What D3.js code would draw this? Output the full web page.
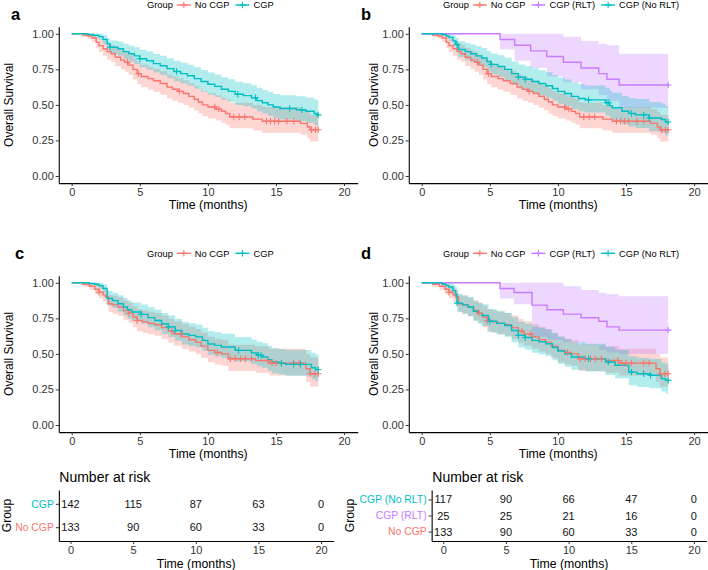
<!DOCTYPE html>
<html><head><meta charset="utf-8">
<script src="https://cdn.jsdelivr.net/npm/d3@7"></script>
<style>body{margin:0;background:#fff} svg{display:block} text{font-family:"Liberation Sans",Arial,Helvetica,sans-serif}</style>
</head><body><svg id="chart" width="708" height="570"></svg>
<script>
// ---------- DATA ----------
const xTicks = [0, 5, 10, 15, 20];
const yTicks = [0, 0.25, 0.5, 0.75, 1];
const riskTimes = [0, 5, 10, 15, 20];

// No CGP (panels a, b)
const noAB_t  = [0,0.8,1.2,1.5,1.8,2.0,2.3,2.6,2.9,3.2,3.6,3.9,4.2,4.5,4.8,5.1,5.6,6.0,6.5,7.0,7.4,7.8,8.2,8.6,9.0,9.3,9.6,10.0,10.6,11.0,11.3,11.6,13.3,14.0,16.8,17.3,17.5];
const noAB_s  = [1,.992,.985,.97,.94,.917,.895,.875,.86,.835,.815,.80,.78,.75,.72,.70,.685,.67,.65,.625,.61,.595,.58,.56,.54,.52,.50,.485,.47,.455,.44,.415,.40,.385,.37,.345,.325];
const noAB_lo = [1,.977,.965,.942,.90,.872,.845,.82,.803,.773,.75,.733,.71,.678,.645,.624,.607,.592,.571,.545,.53,.515,.50,.48,.46,.44,.42,.405,.39,.375,.36,.335,.32,.305,.29,.265,.242];
const noAB_hi = [1,1,1,.998,.98,.965,.948,.932,.92,.90,.883,.87,.853,.826,.80,.782,.768,.755,.736,.713,.70,.686,.672,.654,.635,.616,.597,.582,.568,.553,.54,.515,.50,.486,.472,.45,.43];
const noAB_cens = [4.1,4.9,7.9,10.5,10.8,11.9,12.3,12.7,14.3,14.6,14.9,15.2,15.8,16.3,17.6,17.9,18.1];

// CGP (panel a)
const cgpA_t  = [0,1.2,1.6,2.0,2.3,2.6,2.8,3.4,3.8,4.2,4.6,5.0,5.5,6.0,6.5,7.0,7.5,8.0,8.5,9.0,9.5,10.0,10.5,11.0,11.5,12.0,12.6,13.2,13.6,14.0,14.4,14.8,15.3,16.5,17.2,17.8,18.0];
const cgpA_s  = [1,.995,.99,.98,.96,.93,.905,.895,.875,.86,.845,.825,.81,.79,.775,.755,.735,.72,.705,.685,.665,.645,.63,.61,.595,.575,.565,.55,.53,.515,.50,.485,.475,.465,.455,.44,.43];
const cgpA_lo = [1,.983,.973,.957,.928,.89,.858,.846,.822,.805,.788,.765,.748,.727,.71,.688,.667,.65,.634,.613,.593,.572,.556,.536,.52,.50,.49,.474,.454,.439,.423,.408,.397,.386,.375,.358,.345];
const cgpA_hi = [1,1,1,1,.99,.972,.953,.946,.93,.918,.905,.888,.875,.858,.845,.828,.81,.796,.782,.764,.746,.728,.714,.695,.681,.662,.653,.639,.62,.605,.592,.577,.568,.56,.552,.54,.535];
const cgpA_cens = [2.8,5.0,7.7,12.2,13.5,16.0,16.9,18.1];

// CGP (No RLT) (panel b)
const nrlB_t  = [0,1.5,1.8,2.0,2.3,2.5,2.7,3.2,3.6,4.0,4.4,4.8,5.1,5.6,6.1,6.6,7.1,7.6,8.1,8.6,9.1,9.6,10.0,10.5,11.0,11.5,12.0,13.5,13.8,14.0,14.7,15.2,15.7,16.7,17.6,17.9];
const nrlB_s  = [1,.995,.985,.975,.95,.925,.89,.875,.86,.845,.83,.805,.785,.77,.75,.72,.695,.68,.665,.65,.635,.615,.595,.58,.56,.545,.535,.515,.495,.48,.455,.44,.43,.408,.397,.38];
const nrlB_lo = [1,.982,.963,.947,.912,.878,.836,.818,.80,.782,.765,.737,.714,.697,.675,.642,.615,.598,.582,.566,.55,.529,.508,.492,.472,.456,.446,.425,.405,.39,.364,.348,.338,.315,.303,.285];
const nrlB_hi = [1,1,1,1,.99,.973,.948,.936,.924,.912,.90,.878,.862,.849,.832,.806,.784,.771,.757,.744,.73,.711,.693,.679,.66,.646,.637,.618,.60,.585,.562,.549,.541,.52,.51,.49];
const nrlB_cens = [2.6,5.1,7.1,7.6,12.25,13.6,13.75,15.4,16.3,16.7,18.1];

// CGP (RLT) (panel b)
const rltB_t  = [0,5.75,6.83,8.0,9.18,10.4,11.7,13.0,13.6,14.5];
const rltB_s  = [1,.96,.92,.88,.84,.80,.76,.72,.68,.64];
const rltB_lo = [1,.89,.81,.76,.70,.66,.61,.57,.53,.48];
const rltB_hi = [1,1,1,1,1,.98,.95,.93,.92,.86];
const rltB_cens = [18.1];

// No CGP (panels c, d)
const noCD_t  = [0,0.8,1.3,1.7,2.0,2.3,2.5,2.7,3.0,3.4,3.8,4.2,4.5,4.8,5.2,5.6,6.1,6.6,7.1,7.5,8.1,8.6,9.1,9.5,10.0,10.5,11.0,11.5,13.5,14.5,17.2,17.5];
const noCD_s  = [1,.99,.976,.955,.934,.915,.90,.853,.845,.83,.805,.785,.76,.735,.725,.715,.705,.685,.66,.64,.62,.60,.583,.555,.525,.51,.50,.466,.454,.435,.396,.36];
const noCD_lo = [1,.973,.952,.92,.892,.868,.85,.793,.783,.766,.737,.715,.688,.66,.649,.638,.627,.605,.579,.558,.537,.517,.50,.471,.441,.426,.416,.38,.368,.348,.305,.27];
const noCD_hi = [1,1,1,.99,.977,.963,.952,.915,.909,.896,.875,.858,.836,.814,.805,.797,.788,.77,.748,.729,.71,.691,.675,.649,.621,.606,.597,.565,.553,.536,.50,.475];
const noCD_cens = [2.0,4.2,4.8,7.35,8.0,10.7,11.65,12.0,12.4,12.75,13.2,14.4,14.7,15.0,15.4,16.3,16.7,17.5,17.85,18.1];

// CGP (panel c)
const cgpC_t  = [0,1.3,1.7,2.0,2.3,2.6,3.0,3.4,3.8,4.1,4.4,5.1,5.6,6.1,6.6,7.1,7.6,8.1,8.6,9.1,9.6,10.0,10.5,11.0,12.0,13.2,13.6,14.0,14.4,14.7,15.2,15.7,17.6,17.9];
const cgpC_s  = [1,.995,.99,.98,.96,.89,.875,.853,.83,.81,.795,.778,.755,.735,.71,.69,.665,.64,.63,.62,.595,.57,.56,.548,.525,.506,.49,.478,.46,.443,.435,.426,.403,.39];
const cgpC_lo = [1,.983,.973,.957,.928,.84,.822,.796,.77,.747,.73,.712,.688,.667,.64,.618,.592,.566,.556,.545,.52,.494,.484,.472,.448,.429,.413,.40,.382,.364,.356,.347,.322,.307];
const cgpC_hi = [1,1,1,1,.99,.942,.93,.912,.893,.875,.862,.848,.828,.81,.788,.77,.748,.725,.716,.707,.684,.661,.652,.641,.619,.601,.586,.575,.558,.542,.535,.527,.506,.495];
const cgpC_cens = [5.1,7.1,7.6,12.25,13.7,13.9,15.4,16.3,16.8,18.1];

// CGP (No RLT) (panel d)
const nrlD_t  = [0,1.5,1.8,2.0,2.3,2.5,2.6,3.0,3.4,3.8,4.1,4.4,4.9,5.5,6.1,6.6,7.1,7.6,8.1,8.6,9.1,9.6,10.0,10.5,11.0,12.0,13.5,14.2,15.2,15.8,16.7,17.6,17.9];
const nrlD_s  = [1,.99,.98,.97,.945,.92,.857,.845,.83,.80,.785,.77,.73,.715,.70,.665,.63,.615,.595,.585,.571,.545,.52,.50,.478,.466,.443,.42,.372,.36,.35,.326,.314];
const nrlD_lo = [1,.972,.955,.94,.905,.872,.797,.783,.765,.731,.714,.697,.653,.636,.62,.582,.545,.529,.508,.497,.483,.456,.43,.41,.388,.376,.352,.329,.28,.268,.258,.235,.222];
const nrlD_hi = [1,1,1,1,.987,.97,.922,.912,.90,.874,.862,.849,.815,.802,.789,.758,.726,.712,.693,.684,.671,.646,.622,.603,.582,.571,.55,.528,.484,.473,.464,.44,.43];
const nrlD_cens = [2.6,5.0,7.1,7.6,12.25,13.7,15.4,16.3,16.8,18.1];

// CGP (RLT) (panel d)
const rltD_t  = [0,5.75,6.78,8.1,9.2,10.4,11.7,13.0,13.6,14.5];
const rltD_s  = [1,.96,.932,.843,.81,.78,.754,.73,.69,.667];
const rltD_lo = [1,.89,.85,.62,.60,.58,.56,.53,.51,.50];
const rltD_hi = [1,1,1,1,1,.975,.95,.93,.92,.905];
const rltD_cens = [18.1];

// Number at risk
const riskC_groups = ["CGP", "No CGP"];
const riskC_CGP   = [142, 115, 87, 63, 0];
const riskC_NoCGP = [133, 90, 60, 33, 0];
const riskD_groups = ["CGP (No RLT)", "CGP (RLT)", "No CGP"];
const riskD_NoRLT = [117, 90, 66, 47, 0];
const riskD_RLT   = [25, 25, 21, 16, 0];
const riskD_NoCGP = [133, 90, 60, 33, 0];

// ---------- STYLE ----------
const RED = "#F8766D", PUR = "#C77CFF", TEA = "#00BFC4";
const FONT = '"Liberation Sans",Arial,Helvetica,sans-serif';
const svg = d3.select("#chart");

function curve(t, s, lo, hi, cens, color) { return {t, s, lo, hi, cens, color}; }

const panels = [
  {letter:"a", lx:11, ly:20, x0:71.7, y0:176, ylabX:8, legX:147, legY:5,
   curves:[curve(noAB_t,noAB_s,noAB_lo,noAB_hi,noAB_cens,RED), curve(cgpA_t,cgpA_s,cgpA_lo,cgpA_hi,cgpA_cens,TEA)],
   legend:[["No CGP",RED],["CGP",TEA]]},
  {letter:"b", lx:361, ly:20, x0:421.7, y0:176, ylabX:373, legX:443, legY:5,
   curves:[curve(noAB_t,noAB_s,noAB_lo,noAB_hi,noAB_cens,RED), curve(rltB_t,rltB_s,rltB_lo,rltB_hi,rltB_cens,PUR), curve(nrlB_t,nrlB_s,nrlB_lo,nrlB_hi,nrlB_cens,TEA)],
   legend:[["No CGP",RED],["CGP (RLT)",PUR],["CGP (No RLT)",TEA]]},
  {letter:"c", lx:15, ly:259, x0:71.7, y0:425, ylabX:8, legX:147, legY:253.3,
   curves:[curve(noCD_t,noCD_s,noCD_lo,noCD_hi,noCD_cens,RED), curve(cgpC_t,cgpC_s,cgpC_lo,cgpC_hi,cgpC_cens,TEA)],
   legend:[["No CGP",RED],["CGP",TEA]]},
  {letter:"d", lx:361, ly:259, x0:421.7, y0:425, ylabX:373, legX:443, legY:253.3,
   curves:[curve(noCD_t,noCD_s,noCD_lo,noCD_hi,noCD_cens,RED), curve(rltD_t,rltD_s,rltD_lo,rltD_hi,rltD_cens,PUR), curve(nrlD_t,nrlD_s,nrlD_lo,nrlD_hi,nrlD_cens,TEA)],
   legend:[["No CGP",RED],["CGP (RLT)",PUR],["CGP (No RLT)",TEA]]}
];

const KX = 13.62, KY = 142.2;

function plus(g, cx, cy, color, r) {
  g.append("path").attr("d", `M${cx-r},${cy}H${cx+r}M${cx},${cy-r}V${cy+r}`)
    .attr("stroke", color).attr("stroke-width", 1.1).attr("fill", "none");
}

panels.forEach(p => {
  const g = svg.append("g");
  const x = d3.scaleLinear().domain([-0.95, 21]).range([p.x0 - 0.95*KX, p.x0 + 21*KX]);
  const y = d3.scaleLinear().domain([-0.05, 1.05]).range([p.y0 + 0.05*KY, p.y0 - 1.05*KY]);
  const axisY = y(-0.05), axisX = x(-0.95);

  // bands
  p.curves.forEach(c => {
    const pts = c.t.map((t,i) => ({t, lo:c.lo[i], hi:c.hi[i]}));
    const last = pts[pts.length-1];
    pts.push({t:d3.max(c.cens), lo:last.lo, hi:last.hi});
    g.append("path").datum(pts)
      .attr("d", d3.area().curve(d3.curveStepAfter).x(d=>x(d.t)).y0(d=>y(d.lo)).y1(d=>y(d.hi)))
      .attr("fill", c.color).attr("fill-opacity", 0.3).attr("stroke", "none");
  });
  // lines
  p.curves.forEach(c => {
    const pts = c.t.map((t,i) => ({t, s:c.s[i]}));
    pts.push({t:d3.max(c.cens), s:c.s[c.s.length-1]});
    g.append("path").datum(pts)
      .attr("d", d3.line().curve(d3.curveStepAfter).x(d=>x(d.t)).y(d=>y(d.s)))
      .attr("fill", "none").attr("stroke", c.color).attr("stroke-width", 1.4);
  });
  // censor marks
  p.curves.forEach(c => {
    c.cens.forEach(ct => {
      const sv = c.s[Math.max(0, d3.bisectRight(c.t, ct) - 1)];
      plus(g, x(ct), y(sv), c.color, 3.2);
    });
  });

  // axes
  const xa = g.append("g").attr("transform", `translate(0,${axisY})`)
    .call(d3.axisBottom(x).tickValues(xTicks).tickSizeInner(3).tickSizeOuter(0).tickPadding(2).tickFormat(d3.format("d")));
  const ya = g.append("g").attr("transform", `translate(${axisX},0)`)
    .call(d3.axisLeft(y).tickValues(yTicks).tickSizeInner(3).tickSizeOuter(0).tickPadding(2).tickFormat(d3.format(".2f")));
  [xa, ya].forEach(a => {
    a.select(".domain").attr("stroke", "#000").attr("stroke-width", 1.1);
    a.selectAll(".tick line").attr("stroke", "#333");
    a.selectAll(".tick text").attr("fill", "#333").style("font-size", "11px").style("font-family", FONT);
  });

  g.append("text").attr("x", (x(-0.95)+x(21))/2).attr("y", axisY + 25.5).attr("text-anchor", "middle")
    .style("font-size", "12.3px").text("Time (months)");
  g.append("text").attr("transform", `translate(${p.ylabX + 4.5},${(y(0)+y(1))/2}) rotate(-90)`)
    .attr("text-anchor", "middle").style("font-size", "12px").text("Overall Survival");

  g.append("text").attr("x", p.lx).attr("y", p.ly).style("font-size", "16.5px").style("font-weight", "bold").text(p.letter);

  // legend
  const lg = g.append("g").attr("transform", `translate(${p.legX},${p.legY})`);
  const gt = lg.append("text").attr("x", 0).attr("y", 3.3).style("font-size", "9.3px").attr("fill", "#000").text("Group");
  let cx = gt.node().getComputedTextLength() + 4;
  p.legend.forEach(([lab, col]) => {
    lg.append("line").attr("x1", cx).attr("x2", cx + 14).attr("y1", 0).attr("y2", 0).attr("stroke", col).attr("stroke-width", 1.4);
    plus(lg, cx + 7, 0, col, 3.2);
    cx += 18;
    const tt = lg.append("text").attr("x", cx).attr("y", 3.3).style("font-size", "9.3px").attr("fill", "#000").text(lab);
    cx += tt.node().getComputedTextLength() + 6;
  });
});

// ---------- RISK TABLES ----------
const tables = [
  {x0:70.5, groups:riskC_groups, rows:[riskC_CGP, riskC_NoCGP], cols:[TEA, RED], titleX:59.3, groupX:6},
  {x0:443.3, groups:riskD_groups, rows:[riskD_NoRLT, riskD_RLT, riskD_NoCGP], cols:[TEA, PUR, RED], titleX:432.3, groupX:349}
];
const KT = 12.53;
tables.forEach(tb => {
  const g = svg.append("g");
  const x = d3.scaleLinear().domain([-0.93, 21]).range([tb.x0 - 0.93*KT, tb.x0 + 21*KT]);
  const y = d3.scalePoint().domain(tb.groups).range([490, 541]).padding(0.59);
  const axisY = 541, axisX = x(-0.93);

  tb.rows.forEach((vals, i) => {
    vals.forEach((v, j) => {
      g.append("text").attr("x", x(riskTimes[j])).attr("y", y(tb.groups[i]) + 4)
        .attr("text-anchor", "middle").style("font-size", "11px").attr("fill", "#111").text(v);
    });
  });

  const xa = g.append("g").attr("transform", `translate(0,${axisY})`)
    .call(d3.axisBottom(x).tickValues(xTicks).tickSizeInner(3).tickSizeOuter(0).tickPadding(2).tickFormat(d3.format("d")));
  const ya = g.append("g").attr("transform", `translate(${axisX},0)`)
    .call(d3.axisLeft(y).tickSizeInner(3).tickSizeOuter(0).tickPadding(2));
  [xa, ya].forEach(a => {
    a.select(".domain").attr("stroke", "#000").attr("stroke-width", 1.1);
    a.selectAll(".tick line").attr("stroke", "#333");
    a.selectAll(".tick text").attr("fill", "#333").style("font-size", "11px").style("font-family", FONT);
  });
  ya.selectAll(".tick text").attr("fill", (d, i) => tb.cols[i]).style("font-size", "10.4px");

  g.append("text").attr("x", (x(-0.93)+x(21))/2).attr("y", 567.5).attr("text-anchor", "middle")
    .style("font-size", "12.3px").text("Time (months)");
  g.append("text").attr("transform", `translate(${tb.groupX + 4.5},515.5) rotate(-90)`)
    .attr("text-anchor", "middle").style("font-size", "12px").text("Group");
  g.append("text").attr("x", tb.titleX).attr("y", 481.5).style("font-size", "14px").text("Number at risk");
});
</script>
</body></html>
